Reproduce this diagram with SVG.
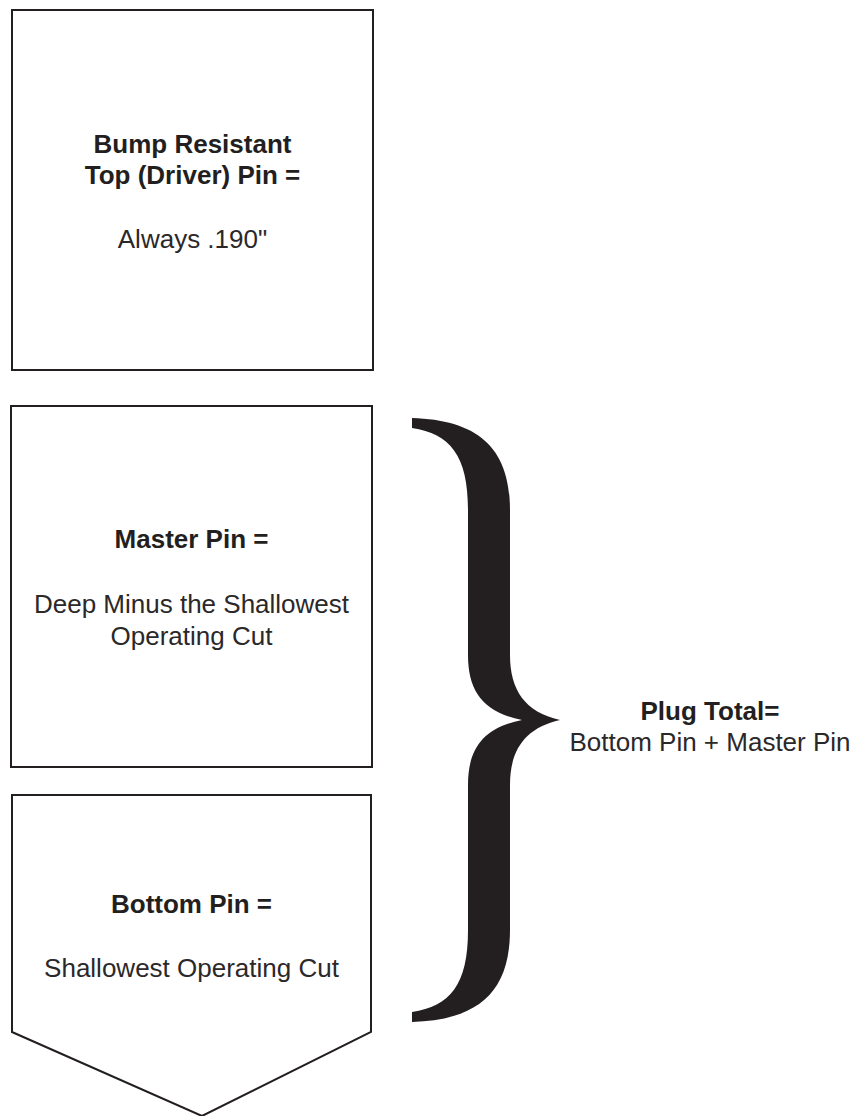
<svg xmlns="http://www.w3.org/2000/svg" width="856" height="1116" viewBox="0 0 856 1116">
  <style>
    .box { fill: #ffffff; stroke: #231f20; stroke-width: 2; }
    .b { font-family: "Liberation Sans", Arial, sans-serif; font-weight: bold; font-size: 26px; fill: #231f20; text-anchor: middle; }
    .r { font-family: "Liberation Sans", Arial, sans-serif; font-size: 26px; fill: #2b2829; text-anchor: middle; }
    .brace { fill: #231f20; stroke: none; }
  </style>
  <rect width="856" height="1116" fill="#ffffff"/>
  <g id="top-pin">
    <rect class="box" x="12" y="10" width="361" height="360"/>
    <text class="b" x="192.5" y="153">Bump Resistant</text>
    <text class="b" x="192.5" y="184">Top (Driver) Pin =</text>
    <text class="r" x="192.5" y="248">Always .190"</text>
  </g>
  <g id="master-pin">
    <rect class="box" x="11" y="406" width="361" height="361"/>
    <text class="b" x="191.5" y="548">Master Pin =</text>
    <text class="r" x="191.5" y="613">Deep Minus the Shallowest</text>
    <text class="r" x="191.5" y="645">Operating Cut</text>
  </g>
  <g id="bottom-pin">
    <polygon class="box" points="12,795 371,795 371,1032 202,1116 12,1032"/>
    <text class="b" x="191.5" y="913">Bottom Pin =</text>
    <text class="r" x="191.5" y="977">Shallowest Operating Cut</text>
  </g>
  <g id="connectors">
    <path class="brace" d="M 412 418 C 475 420, 510 445, 510 510 L 510 655 C 510 690, 525 712, 560 720 C 525 728, 510 750, 510 785 L 510 930 C 510 995, 475 1020, 412 1022 L 412 1012 C 450 1006, 468 985, 468 930 L 468 785 C 468 750, 482 728, 522 720 C 482 712, 468 690, 468 655 L 468 510 C 468 455, 450 434, 412 428 Z"/>
  </g>
  <g id="plug-total">
    <text class="b" x="710" y="720">Plug Total=</text>
    <text class="r" x="710" y="751">Bottom Pin + Master Pin</text>
  </g>
</svg>
